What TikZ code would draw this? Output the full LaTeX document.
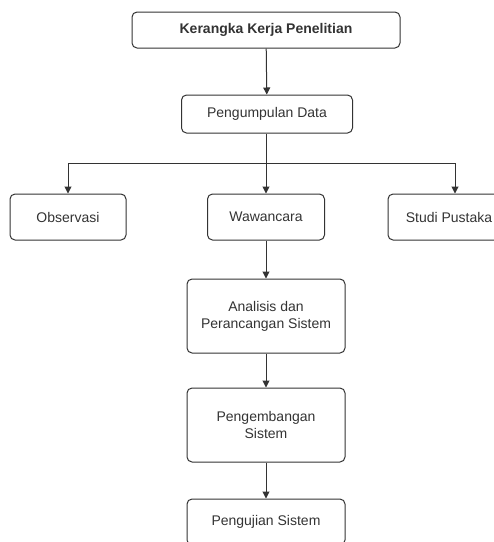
\documentclass[tikz,border=0pt]{standalone}
\usepackage{fontspec}
\setmainfont{Liberation Sans}
\usetikzlibrary{positioning, arrows.meta}
\definecolor{linegray}{HTML}{333333}
\tikzset{
  box/.style={draw=linegray, line width=1pt, rounded corners=5pt, align=center,
    inner sep=0pt, font=\fontsize{14}{17}\selectfont, text=black!80},
  arr/.style={draw=linegray, line width=1pt, -{Triangle[width=7pt,length=7pt]}}
}
\begin{document}
\begin{tikzpicture}[x=1pt,y=-1pt]
  \useasboundingbox (0,0) rectangle (494,542);
  \node[box, minimum width=268pt, minimum height=36pt, font=\fontsize{14}{17}\selectfont\bfseries] (kerangka) at (266,30) {Kerangka Kerja Penelitian};
  \node[box, minimum width=171pt, minimum height=38pt] (data) at (267,114) {Pengumpulan Data};
  \node[box, minimum width=116pt, minimum height=46pt] (obs) at (68,217) {Observasi};
  \node[box, minimum width=117pt, minimum height=46pt] (waw) at (266,217) {Wawancara};
  \node[box, minimum width=122pt, minimum height=46pt] (studi) at (449,217) {Studi Pustaka};
  \node[box, minimum width=158pt, minimum height=74pt] (anal) at (266,316) {Analisis dan\\Perancangan Sistem};
  \node[box, minimum width=158pt, minimum height=74pt] (kembang) at (266,425) {Pengembangan\\Sistem};
  \node[box, minimum width=158pt, minimum height=46pt] (uji) at (266,522) {Pengujian Sistem};
  \coordinate (split) at (266,163);
  \draw[arr] (kerangka) -- (data);
  \draw[arr] (data.south -| split) -- (waw);
  \draw[arr] (split) -| (obs);
  \draw[arr] (split) -| ([xshift=6pt]studi.north);
  \draw[arr] (waw) -- (anal);
  \draw[arr] (anal) -- (kembang);
  \draw[arr] (kembang) -- (uji);
\end{tikzpicture}
\end{document}
